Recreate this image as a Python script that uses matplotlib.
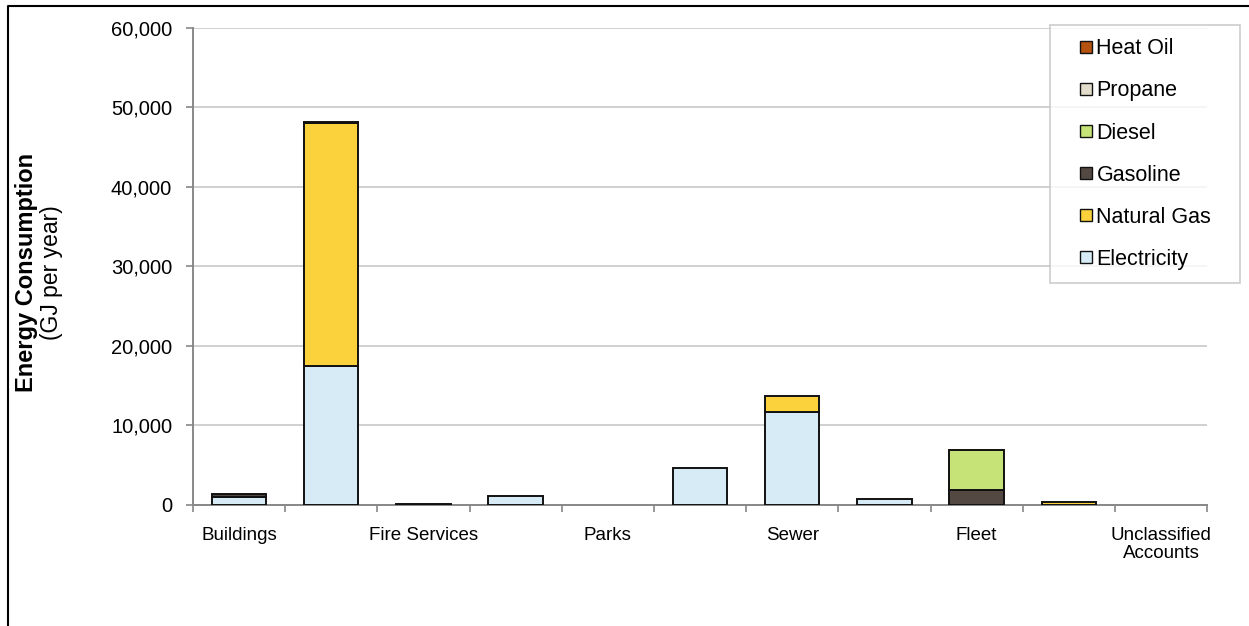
import numpy as np
import matplotlib.pyplot as plt
from matplotlib.lines import Line2D
from matplotlib.ticker import FuncFormatter

plt.rcParams['font.family'] = ['Liberation Sans', 'DejaVu Sans']

# Energy use by department (GJ per year)
tick_labels = ['Buildings', '', 'Fire Services', '', 'Parks', '', 'Sewer', '',
               'Fleet', '', 'Unclassified\nAccounts']
electricity = [1000, 17450, 0, 1100, 0, 4600, 11700, 750, 0, 0, 0]
natural_gas = [0, 30600, 0, 0, 0, 0, 1950, 0, 0, 350, 0]
gasoline = [320, 170, 120, 0, 0, 0, 0, 0, 1900, 0, 0]
diesel = [0, 0, 0, 0, 0, 0, 0, 0, 5000, 0, 0]
propane = [0, 0, 0, 0, 0, 0, 0, 0, 0, 0, 0]
heat_oil = [0, 0, 0, 0, 0, 0, 0, 0, 0, 0, 0]

series = [
    ('Electricity', electricity, '#d7ebf6'),
    ('Natural Gas', natural_gas, '#fcd23c'),
    ('Gasoline', gasoline, '#544842'),
    ('Diesel', diesel, '#c6e377'),
    ('Propane', propane, '#e2ddcb'),
    ('Heat Oil', heat_oil, '#b5520f'),
]

fig = plt.figure(figsize=(12.49, 6.26), dpi=100)
ax = fig.add_axes([0.1545, 0.1933, 0.812, 0.762])

x = np.arange(len(tick_labels))
bottom = np.zeros(len(x))
handles = []
for name, vals, color in series:
    vals = np.array(vals, dtype=float)
    mask = vals > 0
    ax.bar(x[mask], vals[mask], bottom=bottom[mask], width=0.59,
           color=color, edgecolor='#111111', linewidth=1.4, zorder=3)
    bottom += vals
    handles.append(Line2D([], [], linestyle='none', marker='s', markersize=8.5,
                          markerfacecolor=color, markeredgecolor='#111111',
                          markeredgewidth=1.0))

ax.set_xlim(-0.5, len(x) - 0.5)
ax.set_ylim(0, 60000)
ax.set_yticks(np.arange(0, 60001, 10000))
ax.yaxis.set_major_formatter(FuncFormatter(lambda v, p: f'{int(v):,}'))
ax.grid(axis='y', color='#c8c8c8', linewidth=1.2, zorder=0)

ax.set_xticks(np.arange(-0.5, len(x), 1.0))
ax.set_xticklabels([])
ax.set_xticks(x, minor=True)
ax.set_xticklabels(tick_labels, minor=True, linespacing=1.05)
ax.tick_params(axis='x', which='minor', length=0, pad=16, labelsize=13.5)
ax.tick_params(axis='x', which='major', length=5, color='#888888', width=1.2)
ax.tick_params(axis='y', length=5, color='#888888', width=1.2, labelsize=14.5, pad=10)

for side in ['top', 'right']:
    ax.spines[side].set_visible(False)
for side in ['left', 'bottom']:
    ax.spines[side].set_color('#888888')
    ax.spines[side].set_linewidth(1.4)

fig.text(0.021, 0.565, 'Energy Consumption', rotation=90, ha='center', va='center',
         fontsize=17, fontweight='bold')
fig.text(0.041, 0.565, '(GJ per year)', rotation=90, ha='center', va='center',
         fontsize=16.5)

# legend box stretched to a fixed width, entries left-aligned inside it
leg_left, leg_top, leg_w, leg_h = 1050 / 1249, 1 - 25 / 626, 190 / 1249, 255 / 626
leg = fig.legend(handles[::-1], [s[0] for s in series][::-1],
                 loc='upper left', mode='expand',
                 bbox_to_anchor=(leg_left, leg_top - leg_h, leg_w, leg_h),
                 fontsize=15.5, frameon=True, fancybox=False,
                 handlelength=2.14, handletextpad=-0.6,
                 labelspacing=0.98, borderpad=0.62, borderaxespad=0)
leg.get_frame().set_edgecolor('#c0c0c0')
leg.get_frame().set_linewidth(1.2)

# outer frame lines along the left and top of the figure
fig.add_artist(Line2D([8 / 1249, 8 / 1249, 1.0], [0.0, 1 - 6 / 626, 1 - 6 / 626],
                      transform=fig.transFigure, color='black', linewidth=1.5))

fig.savefig('out.png', dpi=100)
